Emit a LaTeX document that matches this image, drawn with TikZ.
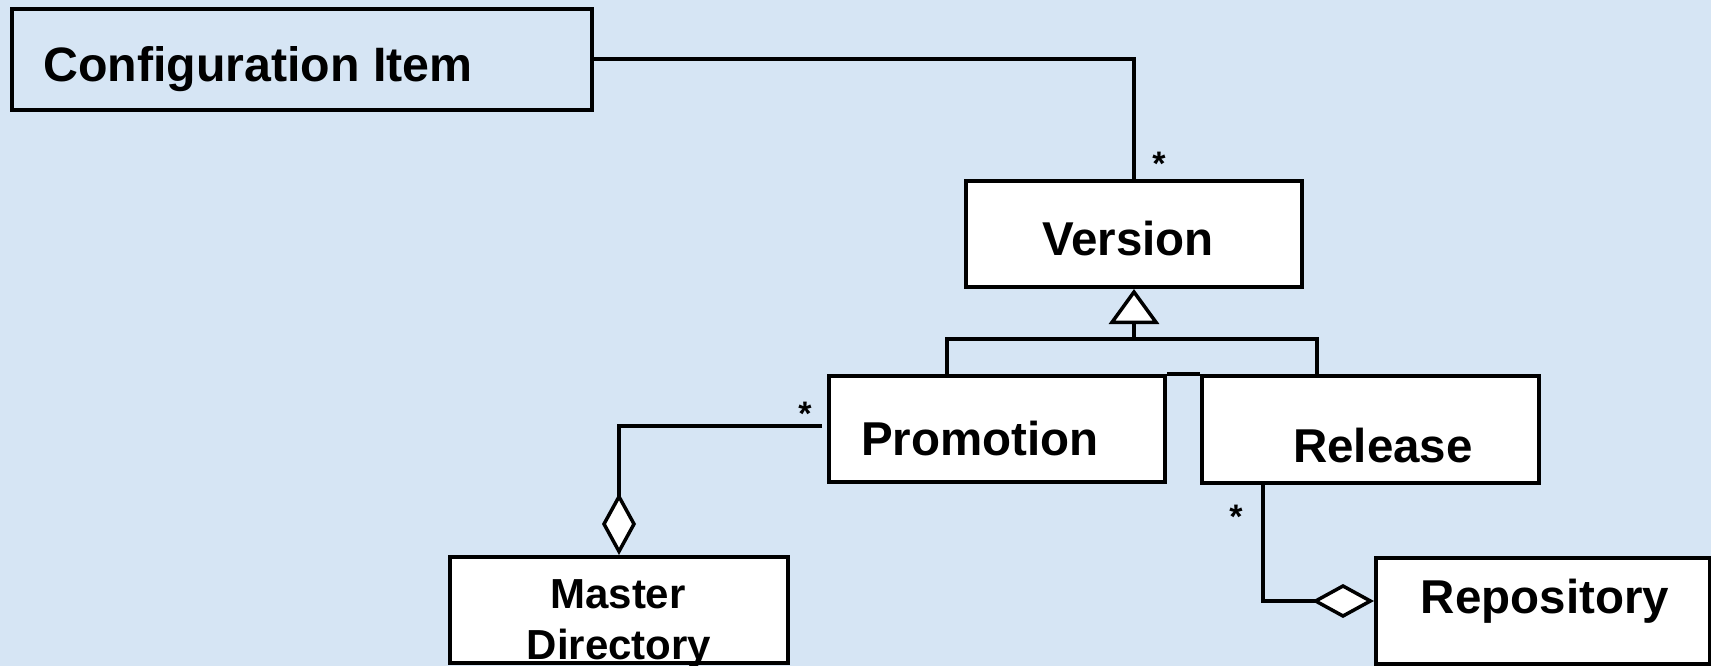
\documentclass[tikz,border=0pt]{standalone}
\usepackage{fontspec}
\setmainfont{Liberation Sans}
\usetikzlibrary{arrows.meta}
\definecolor{bgblue}{RGB}{214,229,244}
\begin{document}
\begin{tikzpicture}[x=1pt,y=-1pt,
  umlbox/.style={draw=black, line width=4pt, fill=white, rectangle, inner sep=0pt},
  lbl/.style={font=\bfseries\fontsize{47.5}{52}\selectfont, anchor=base, inner sep=0pt},
  smalllbl/.style={font=\bfseries\fontsize{42}{48}\selectfont, anchor=base, inner sep=0pt},
  mult/.style={font=\bfseries\fontsize{34}{40}\selectfont, inner sep=0pt},
  conn/.style={draw=black, line width=4pt},
  gen/.style={-{Triangle[open, fill=white, length=35pt, width=50pt, line width=3.5pt]}},
  agg/.style={-{Diamond[open, fill=white, length=62pt, width=34pt, line width=3.5pt]}},
]
\useasboundingbox (0,0) rectangle (1711,666);
\fill[bgblue] (0,0) rectangle (1711,666);

% boxes
\node[umlbox, fill=none, minimum width=580pt, minimum height=101pt] (ci) at (302,59.5) {};
\node[umlbox, minimum width=336pt, minimum height=106pt] (ver) at (1134,234) {};
\node[umlbox, minimum width=336pt, minimum height=106pt] (pro) at (997,429) {};
\node[umlbox, minimum width=337pt, minimum height=107pt] (rel) at (1370.5,429.5) {};
\node[umlbox, minimum width=338pt, minimum height=106pt] (md) at (619,610) {};
\node[umlbox, minimum width=334pt, minimum height=106pt] (rep) at (1543,611) {};

% texts
\node[lbl, font=\bfseries\fontsize{48.3}{52}\selectfont, anchor=base west] (cit) at (43,82) {Configuration Item};
\node[lbl] (vert) at (1128,255) {Version};
\node[lbl] (prot) at (980,455) {Promotion};
\node[lbl] (relt) at (1383,462) {Release};
\node[lbl] (rept) at (1545,613) {Repository};
\node[smalllbl] (mdt1) at (618,608) {Master};
\node[smalllbl] (mdt2) at (619,659) {Directory};

% Configuration Item -- Version
\draw[conn] (ci.east) -| (ver.north);
\node[mult] (m1) at (1159,164) {*};

% generalization
\coordinate (gtop) at (1134,339);
\coordinate (bl) at (947,376);
\coordinate (br) at (1317,376);
\draw[conn] (bl) |- (gtop) -| (br);
\draw[conn] (pro.north east) -- (rel.north west);
\draw[conn, gen] (gtop) -- (ver.south);

% Promotion -- Master Directory
\draw[conn, agg, shorten <=5pt] ([yshift=3pt]pro.west) -| (md.north);
\node[mult] (m2) at (805,414) {*};

% Release -- Repository
\coordinate (rs) at (1263,483);
\draw[conn, agg] (rs) |- ([yshift=10pt]rep.west);
\node[mult] (m3) at (1236,517) {*};
\end{tikzpicture}
\end{document}
